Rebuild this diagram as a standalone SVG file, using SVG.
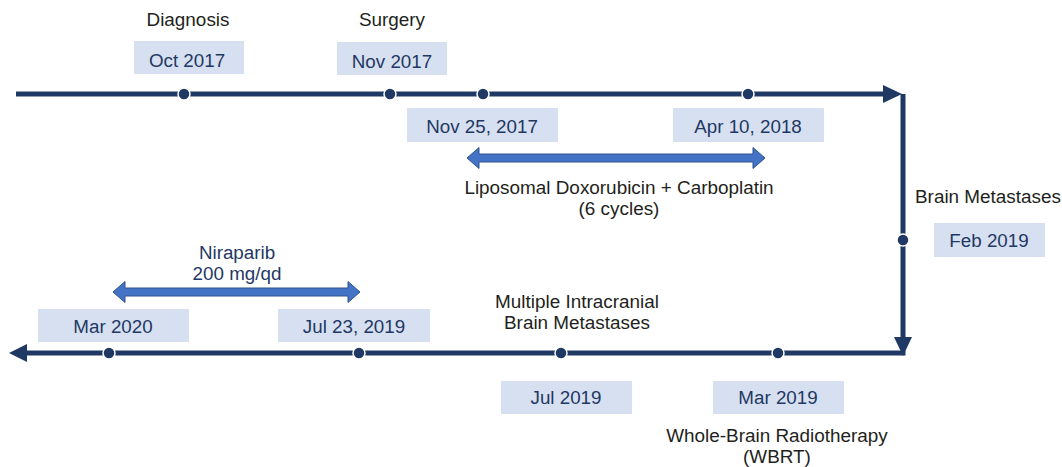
<svg xmlns="http://www.w3.org/2000/svg" width="1062" height="467" viewBox="0 0 1062 467">
<style>
.lbl{font-family:"Liberation Sans",Arial,sans-serif;font-size:18.9px;fill:#231f20;text-anchor:middle}
.dt{font-family:"Liberation Sans",Arial,sans-serif;font-size:18.8px;fill:#1f3864;text-anchor:middle}
.box{fill:#d7e0f0}
.line{stroke:#1f3864;stroke-width:5;fill:none}
.dot{fill:#1f3864;stroke:#ffffff;stroke-width:1.5}
.dbl{fill:#4472c4;stroke:#2f528f;stroke-width:1}
.head{fill:#1f3864}
</style>
<rect width="1062" height="467" fill="#ffffff"/>
<g id="connectors">
<line class="line" x1="16" y1="94" x2="886" y2="94"/>
<polygon class="head" points="883,85 902,94 883,103"/>
<line class="line" x1="903" y1="94" x2="903" y2="340"/>
<polygon class="head" points="894,337 903,356 912,337"/>
<line class="line" x1="905.5" y1="353" x2="26" y2="353"/>
<polygon class="head" points="27,344 9,353 27,362"/>
<path id="chemo-arrow" class="dbl" d="M467,158 L479,147.5 L479,154 L753,154 L753,147.5 L765,158 L753,168.5 L753,162 L479,162 L479,168.5 Z"/>
<path id="niraparib-arrow" class="dbl" d="M113,292 L125,281.5 L125,288 L348,288 L348,281.5 L360,292 L348,302.5 L348,296 L125,296 L125,302.5 Z"/>
</g>
<g id="dots">
<circle class="dot" cx="184" cy="94" r="6"/>
<circle class="dot" cx="390" cy="94" r="6"/>
<circle class="dot" cx="483" cy="94" r="6"/>
<circle class="dot" cx="748" cy="94" r="6"/>
<circle class="dot" cx="903" cy="240" r="6"/>
<circle class="dot" cx="109" cy="353" r="6"/>
<circle class="dot" cx="359" cy="353" r="6"/>
<circle class="dot" cx="561" cy="353" r="6"/>
<circle class="dot" cx="778" cy="353" r="6"/>
</g>
<g id="diagnosis">
<text class="lbl" x="188" y="26">Diagnosis</text>
<rect class="box" x="134" y="41" width="110" height="33"/>
<text class="dt" x="187" y="67">Oct 2017</text>
</g>
<g id="surgery">
<text class="lbl" x="392" y="26">Surgery</text>
<rect class="box" x="337" y="42" width="110" height="33"/>
<text class="dt" x="392" y="68">Nov 2017</text>
</g>
<g id="chemo-start">
<rect class="box" x="407" y="108" width="151" height="34"/>
<text class="dt" x="482" y="133">Nov 25, 2017</text>
</g>
<g id="chemo-end">
<rect class="box" x="673" y="108" width="151" height="34"/>
<text class="dt" x="748" y="133">Apr 10, 2018</text>
</g>
<g id="chemo-label">
<text class="lbl" x="619" y="194">Liposomal Doxorubicin + Carboplatin</text>
<text class="lbl" x="619" y="215">(6 cycles)</text>
</g>
<g id="brain-mets">
<text class="lbl" x="988" y="203">Brain Metastases</text>
<rect class="box" x="934" y="223" width="111" height="34"/>
<text class="dt" x="989" y="247">Feb 2019</text>
</g>
<g id="wbrt">
<rect class="box" x="713" y="381" width="131" height="33"/>
<text class="dt" x="778" y="404">Mar 2019</text>
<text class="lbl" x="777" y="442">Whole-Brain Radiotherapy</text>
<text class="lbl" x="777" y="463">(WBRT)</text>
</g>
<g id="multiple-mets">
<text class="lbl" x="577" y="308">Multiple Intracranial</text>
<text class="lbl" x="577" y="329">Brain Metastases</text>
<rect class="box" x="501" y="381" width="131" height="33"/>
<text class="dt" x="566" y="404">Jul 2019</text>
</g>
<g id="niraparib-start">
<rect class="box" x="278" y="309" width="152" height="33"/>
<text class="dt" x="354" y="333">Jul 23, 2019</text>
</g>
<g id="niraparib-end">
<rect class="box" x="38" y="309" width="151" height="33"/>
<text class="dt" x="113" y="333">Mar 2020</text>
</g>
<g id="niraparib-label">
<text class="dt" x="237" y="259">Niraparib</text>
<text class="dt" x="237" y="280">200 mg/qd</text>
</g>
</svg>
